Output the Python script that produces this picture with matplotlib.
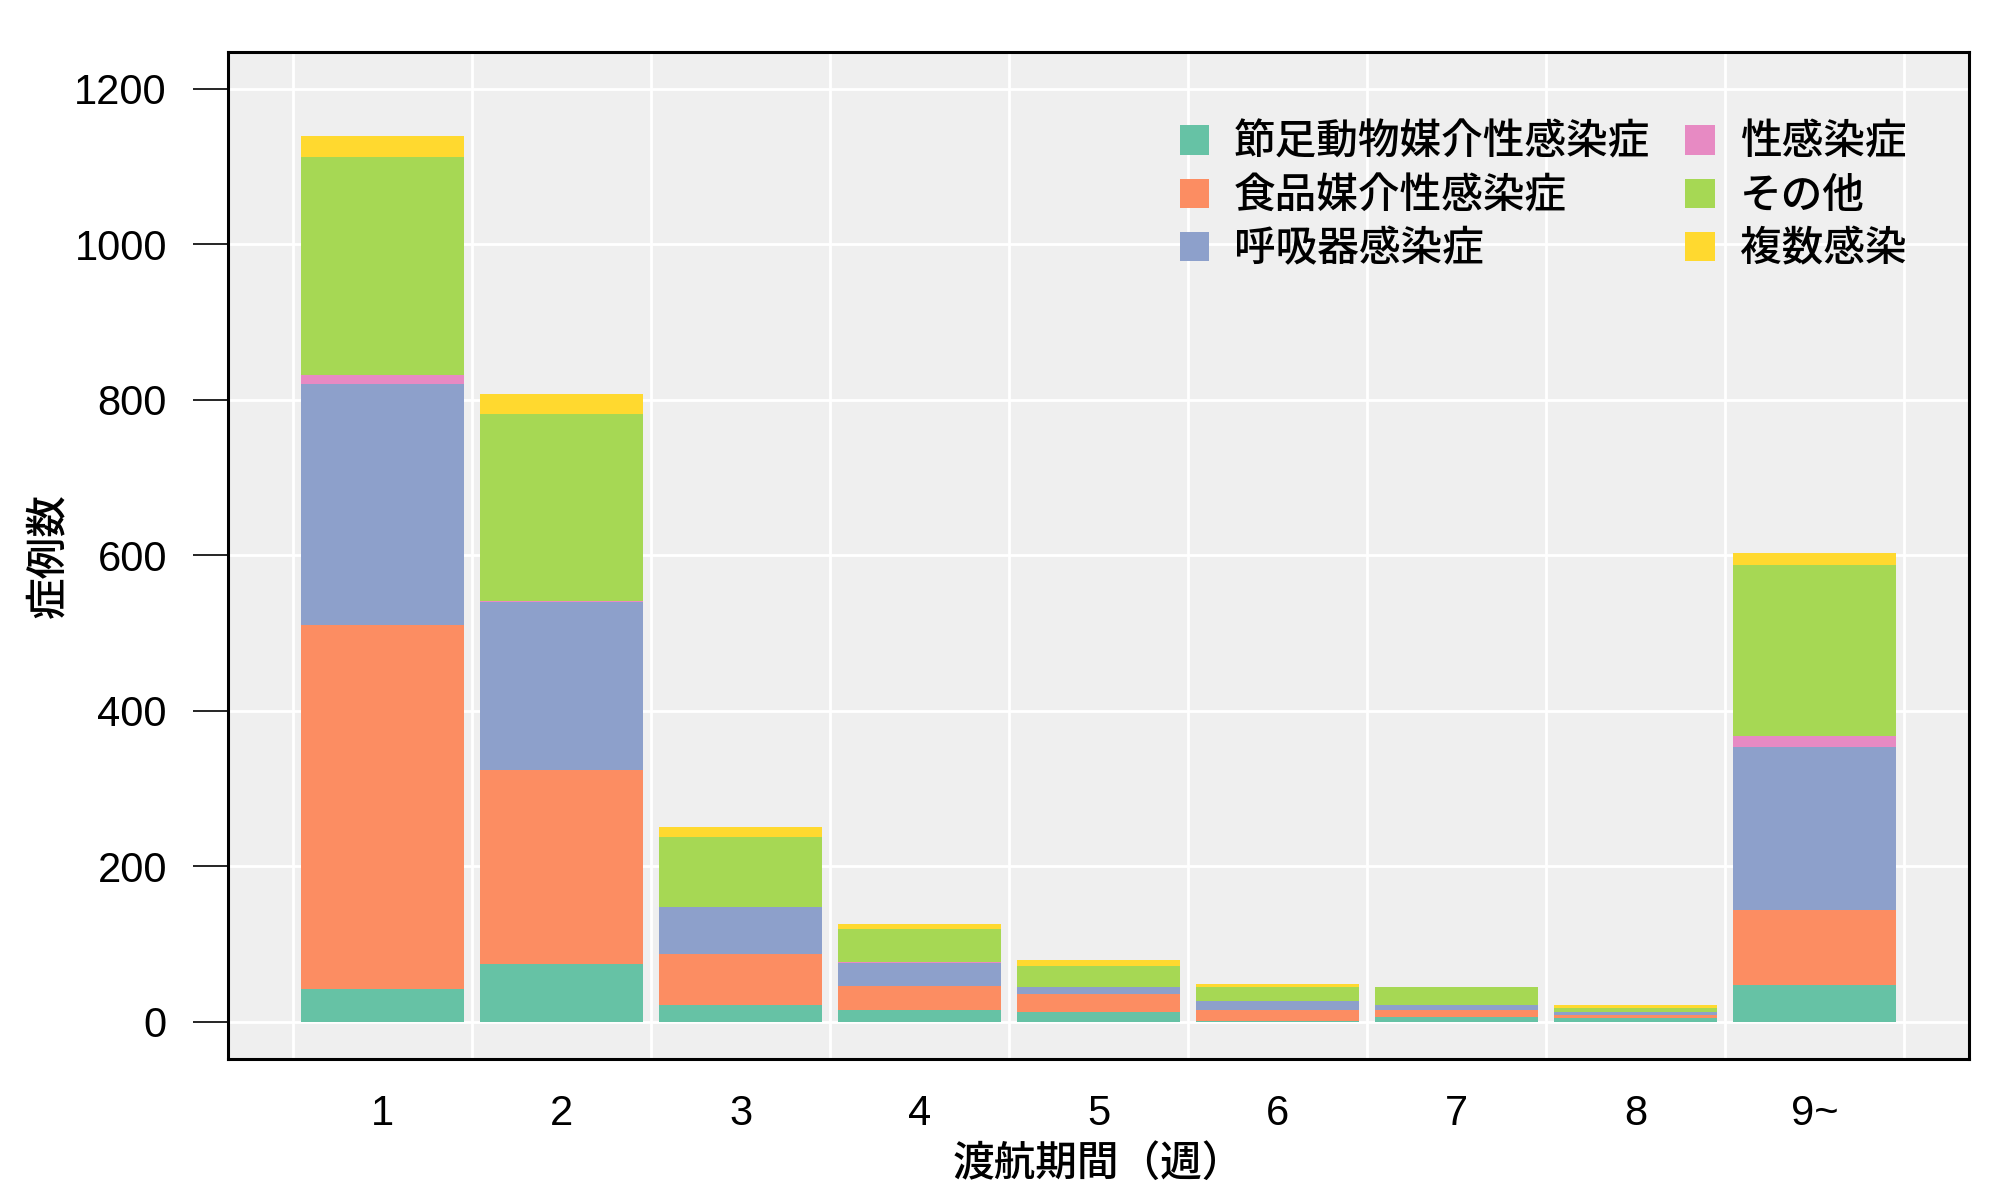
import matplotlib
matplotlib.use("Agg")
import matplotlib.pyplot as plt
import numpy as np

weeks = ["1", "2", "3", "4", "5", "6", "7", "8", "9~"]
categories = ["節足動物媒介性感染症", "食品媒介性感染症", "呼吸器感染症",
              "性感染症", "その他", "複数感染"]
arthropod = [42, 74, 21, 15, 13, 1, 6, 5, 47]
food = [468, 250, 66, 31, 22, 14, 9, 3, 97]
respiratory = [310, 216, 61, 30, 10, 12, 7, 4, 210]
sexual = [12, 1, 0, 1, 0, 0, 0, 0, 14]
other = [281, 241, 90, 42, 27, 17, 23, 5, 220]
multiple = [27, 25, 12, 7, 8, 5, 0, 5, 15]
series = [arthropod, food, respiratory, sexual, other, multiple]
colors = ["#66c2a5", "#fc8d62", "#8da0cb", "#e78ac3", "#a6d854", "#ffd92f"]

cjk = ["Noto Sans CJK JP", "DejaVu Sans"]
num = ["Liberation Sans", "Noto Sans CJK JP"]

fig = plt.figure(figsize=(20, 12), dpi=100)
ax = fig.add_axes([0.114, 0.1175, 0.8705, 0.8395])
ax.set_facecolor("#efefef")

x = np.arange(1, len(weeks) + 1)
bottom = np.zeros(len(weeks))
for vals, c, lab in zip(series, colors, categories):
    v = np.array(vals, dtype=float)
    ax.bar(x, v, width=0.91, bottom=bottom, color=c, label=lab, linewidth=0, zorder=3)
    bottom += v

ax.set_xlim(0.136, 9.864)
ax.set_ylim(-48, 1248)
ax.set_yticks([0, 200, 400, 600, 800, 1000, 1200])
ax.set_xticks(x)
ax.set_xticklabels(weeks, fontfamily=num, fontsize=30)
for lab in ax.get_yticklabels():
    lab.set_fontfamily(num)
    lab.set_fontsize(30)
ax.tick_params(axis="y", length=25, width=1.2, pad=19, color="black")
ax.tick_params(axis="x", length=0, pad=25)

for yv in [0, 200, 400, 600, 800, 1000, 1200]:
    ax.axhline(yv, color="white", linewidth=2.0, zorder=1)
for xv in np.arange(0.5, 10.0, 1.0):
    ax.axvline(xv, color="white", linewidth=2.0, zorder=1)

for s in ax.spines.values():
    s.set_linewidth(2.2)
    s.set_color("black")

ax.set_xlabel("渡航期間（週）", fontfamily=cjk, fontsize=30, fontweight="medium", labelpad=6)
ax.set_ylabel("症例数", fontfamily=cjk, fontsize=30, fontweight="medium", labelpad=4)

leg = ax.legend(ncol=2, loc="upper left", bbox_to_anchor=(0.537, 0.948),
                prop={"family": cjk, "size": 30, "weight": "medium"}, frameon=False,
                handlelength=0.7, handleheight=0.7, handletextpad=0.6,
                columnspacing=0.85, labelspacing=0.25, borderaxespad=0)

fig.savefig("out.png", dpi=100, facecolor="white")
